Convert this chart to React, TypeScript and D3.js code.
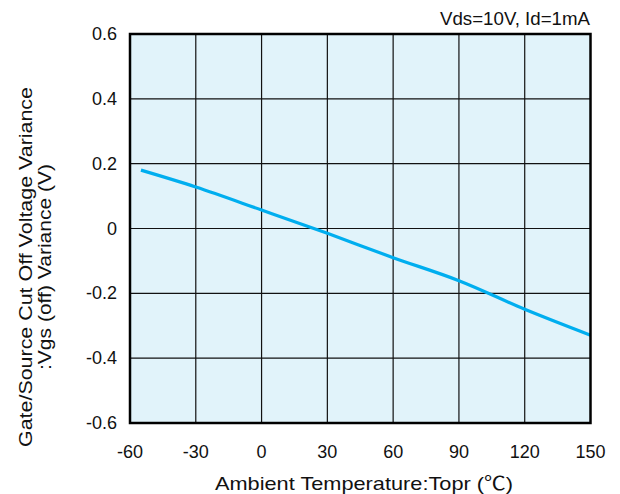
import React from 'react';
import * as d3 from 'd3';

const temps = [-55, -30, 0, 30, 60, 90, 120, 150];
const variance = [0.18, 0.128, 0.057, -0.015, -0.09, -0.161, -0.249, -0.329];
const xTicks = [-60, -30, 0, 30, 60, 90, 120, 150];
const yTicks = [-0.6, -0.4, -0.2, 0, 0.2, 0.4, 0.6];

const W = 620;
const H = 494;
const FONT = '"Liberation Sans", Arial, sans-serif';

export default function App() {
    const left = 130, right = 590.5, top = 34, bottom = 423;

    const x = d3.scaleLinear().domain([-60, 150]).range([left, right]);
    const y = d3.scaleLinear().domain([-0.6, 0.6]).range([bottom, top]);

    const points = temps.map((t, i) => [t, variance[i]] as [number, number]);
    const line = d3.line<[number, number]>()
        .x(d => x(d[0]))
        .y(d => y(d[1]))
        .curve(d3.curveMonotoneX);

    // plain hyphen like the original, not the unicode minus
    const fmt = (v: number) => (v === 0 ? '0' : v.toFixed(1));
    const midY = 267;

    return (
        <div style={{ position: 'absolute', left: 0, top: 0 }}>
            <svg width={W} height={H} style={{ display: 'block', background: '#fff' }}>
                <rect x={left} y={top} width={right - left} height={bottom - top} fill="#e1f3fa" />

                {/* grid */}
                {xTicks.slice(1, -1).map(t => (
                    <line key={'gx' + t} x1={x(t)} x2={x(t)} y1={top} y2={bottom} stroke="#111" strokeWidth={1.2} />
                ))}
                {yTicks.slice(1, -1).map(t => (
                    <line key={'gy' + t} x1={left} x2={right} y1={y(t)} y2={y(t)} stroke="#111" strokeWidth={1.2} />
                ))}

                <path d={line(points) || ''} fill="none" stroke="#00aeef" strokeWidth={3.2} />

                <rect x={left} y={top} width={right - left} height={bottom - top} fill="none" stroke="#000" strokeWidth={2.5} />

                {/* y tick labels */}
                {yTicks.map(t => (
                    <text key={'ty' + t} x={117} y={y(t) + 6} textAnchor="end" fontFamily={FONT} fontSize={18} fill="#111">
                        {fmt(t)}
                    </text>
                ))}

                {/* x tick labels */}
                {xTicks.map(t => (
                    <text key={'tx' + t} x={x(t)} y={458} textAnchor="middle" fontFamily={FONT} fontSize={18} fill="#111">
                        {t}
                    </text>
                ))}

                <text x={364} y={490} textAnchor="middle" fontFamily={FONT} fontSize={19} fill="#111"
                    textLength={298} lengthAdjust="spacingAndGlyphs">
                    Ambient Temperature:Topr (<tspan fontFamily='"Noto Sans CJK JP", sans-serif'>℃</tspan>)
                </text>

                <text x={590} y={25} textAnchor="end" fontFamily={FONT} fontSize={18} fill="#111"
                    textLength={150} lengthAdjust="spacingAndGlyphs">
                    Vds=10V, Id=1mA
                </text>

                <g transform={`translate(32,${midY}) rotate(-90)`}>
                    <text x={0} y={0} textAnchor="middle" fontFamily={FONT} fontSize={19} fill="#111"
                        textLength={360} lengthAdjust="spacingAndGlyphs">
                        Gate/Source Cut Off Voltage Variance
                    </text>
                    <text x={0} y={19} textAnchor="middle" fontFamily={FONT} fontSize={19} fill="#111"
                        textLength={206} lengthAdjust="spacingAndGlyphs">
                        :Vgs (off) Variance (V)
                    </text>
                </g>
            </svg>
        </div>
    );
}
